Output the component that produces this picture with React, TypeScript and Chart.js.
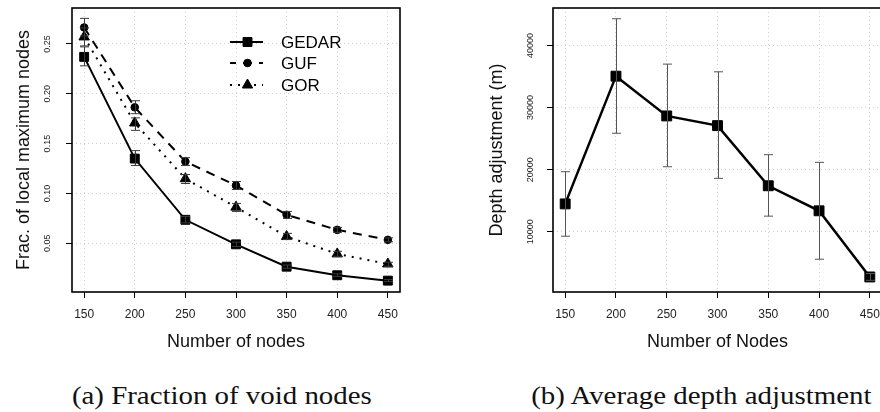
import React, { useEffect, useRef } from "react";
import { Chart, registerables } from "chart.js";
import { drawPoint } from "chart.js/helpers";

Chart.register(...registerables);
Chart.defaults.font.family = "'Liberation Sans', Arial, Helvetica, sans-serif";

// ---------- data ----------
const nodeCounts = [150, 200, 250, 300, 350, 400, 450];
const xTickValues = [150, 200, 250, 300, 350, 400, 450];
const fracTickValues = [0.05, 0.1, 0.15, 0.2, 0.25];
const depthTickValues = [10000, 20000, 30000, 40000];

const seriesNames = ["GEDAR", "GUF", "GOR"];

const gedarFrac = [0.237, 0.135, 0.0736, 0.049, 0.0266, 0.018, 0.0126];
const gedarLow = [0.228, 0.128, 0.0705, 0.0468, 0.025, 0.0167, 0.0116];
const gedarHigh = [0.247, 0.143, 0.0768, 0.0512, 0.0283, 0.0194, 0.0137];

const gufFrac = [0.2665, 0.1864, 0.132, 0.108, 0.0786, 0.0635, 0.0535];
const gufLow = [0.258, 0.18, 0.128, 0.104, 0.075, 0.061, 0.0515];
const gufHigh = [0.2756, 0.193, 0.136, 0.112, 0.082, 0.066, 0.0555];

const gorFrac = [0.257, 0.1707, 0.1148, 0.0863, 0.0568, 0.0394, 0.0293];
const gorLow = [0.248, 0.1633, 0.11, 0.082, 0.054, 0.037, 0.027];
const gorHigh = [0.266, 0.1758, 0.119, 0.09, 0.06, 0.042, 0.031];

const depthMean = [14500, 35060, 28660, 27100, 17420, 13390, 2740];
const depthLow = [9300, 25870, 20480, 18610, 12530, 5600, 2200];
const depthHigh = [19680, 44300, 37000, 35760, 22420, 21190, 3300];

// ---------- helpers ----------
const toPoints = (ys: number[]) => nodeCounts.map((n, i) => ({ x: n, y: ys[i] }));

const gridOpts = {
  color: "#cfcfcf",
  lineWidth: 1,
  tickColor: "#000",
  tickLength: 6,
  tickWidth: 1,
  drawTicks: true,
};

function xAxis(title: string) {
  return {
    type: "linear",
    min: 138,
    max: 462,
    afterBuildTicks: (s: any) => {
      s.ticks = xTickValues.map((v) => ({ value: v }));
    },
    afterFit: (s: any) => {
      s.height = 68;
      s.paddingLeft = 0;
      s.paddingRight = 0;
    },
    grid: gridOpts,
    border: { display: false, dash: [1, 3] },
    ticks: {
      autoSkip: false,
      font: { size: 12 },
      color: "#222",
      padding: 9.5,
      minRotation: 0,
      maxRotation: 0,
      callback: (v: any) => String(v),
    },
    title: {
      display: true,
      text: title,
      font: { size: 18 },
      color: "#111",
      padding: { top: 0, bottom: 7.2 },
    },
  };
}

function yAxis(
  min: number,
  max: number,
  tickVals: number[],
  title: string,
  width: number,
  tickPad: number,
  titlePad: number,
  fmt: (v: number) => string
) {
  return {
    type: "linear",
    min,
    max,
    afterBuildTicks: (s: any) => {
      s.ticks = tickVals.map((v) => ({ value: v }));
    },
    afterFit: (s: any) => {
      s.width = width;
      s.paddingTop = 0;
      s.paddingBottom = 0;
    },
    grid: gridOpts,
    border: { display: false, dash: [1, 3] },
    ticks: {
      autoSkip: false,
      font: { size: 9 },
      color: "#222",
      padding: tickPad,
      minRotation: 90,
      maxRotation: 90,
      crossAlign: "center",
      callback: (v: any) => fmt(Number(v)),
    },
    title: {
      display: true,
      text: title,
      font: { size: 18 },
      color: "#111",
      padding: { top: titlePad, bottom: 0 },
    },
  };
}

function errorBarPlugin(sets: { low: number[]; high: number[] }[], color: string, cap: number) {
  return {
    id: "errorBars",
    afterDatasetsDraw(chart: any) {
      const { ctx } = chart;
      const x = chart.scales.x;
      const y = chart.scales.y;
      ctx.save();
      ctx.strokeStyle = color;
      ctx.lineWidth = 1;
      ctx.setLineDash([]);
      sets.forEach((s) => {
        nodeCounts.forEach((n, i) => {
          const px = Math.round(x.getPixelForValue(n)) + 0.5;
          const y1 = y.getPixelForValue(s.low[i]);
          const y2 = y.getPixelForValue(s.high[i]);
          ctx.beginPath();
          ctx.moveTo(px, y1);
          ctx.lineTo(px, y2);
          ctx.moveTo(px - cap, y1);
          ctx.lineTo(px + cap, y1);
          ctx.moveTo(px - cap, y2);
          ctx.lineTo(px + cap, y2);
          ctx.stroke();
        });
      });
      ctx.restore();
    },
  };
}

const boxPlugin = {
  id: "box",
  afterDraw(chart: any) {
    const { ctx, chartArea: a } = chart;
    ctx.save();
    ctx.strokeStyle = "#000";
    ctx.lineWidth = 1.6;
    ctx.setLineDash([]);
    ctx.strokeRect(a.left, a.top, a.right - a.left, a.bottom - a.top);
    ctx.restore();
  },
};

const legendPlugin = {
  id: "customLegend",
  afterDraw(chart: any) {
    const { ctx } = chart;
    const rows = [42, 63, 85];
    const x0 = 230;
    const x1 = 263;
    const xm = 247.5;
    const xt = 281;
    ctx.save();
    chart.data.datasets.forEach((ds: any, i: number) => {
      const y = rows[i];
      ctx.strokeStyle = "#000";
      ctx.fillStyle = "#000";
      ctx.lineWidth = ds.borderWidth;
      ctx.setLineDash(ds.borderDash || []);
      ctx.lineDashOffset = ds.legendDashOffset || 0;
      ctx.beginPath();
      ctx.moveTo(x0, y);
      ctx.lineTo(x1, y);
      ctx.stroke();
      ctx.setLineDash([]);
      ctx.lineWidth = 1;
      drawPoint(ctx, { pointStyle: ds.pointStyle, radius: ds.pointRadius, rotation: 0, borderWidth: 1 } as any, xm, y);
      ctx.font = "17px 'Liberation Sans', Arial, sans-serif";
      ctx.textBaseline = "middle";
      ctx.textAlign = "left";
      ctx.fillStyle = "#000";
      ctx.fillText(ds.label, xt, y + 1);
    });
    ctx.restore();
  },
};

export default function App() {
  const leftRef = useRef<HTMLCanvasElement>(null);
  const rightRef = useRef<HTMLCanvasElement>(null);

  useEffect(() => {
    const left = new Chart(leftRef.current as HTMLCanvasElement, {
      type: "line",
      data: {
        datasets: [
          {
            label: seriesNames[0],
            data: toPoints(gedarFrac),
            borderColor: "#000",
            backgroundColor: "#000",
            borderWidth: 2,
            pointStyle: "rect",
            pointRadius: 6.3,
            pointBackgroundColor: "#000",
            pointBorderColor: "#000",
            pointBorderWidth: 1,
          },
          {
            label: seriesNames[1],
            data: toPoints(gufFrac),
            borderColor: "#000",
            backgroundColor: "#000",
            borderWidth: 2,
            borderDash: [9, 7],
            legendDashOffset: 3,
            pointStyle: "circle",
            pointRadius: 3.8,
            pointBackgroundColor: "#000",
            pointBorderColor: "#000",
            pointBorderWidth: 1,
          },
          {
            label: seriesNames[2],
            data: toPoints(gorFrac),
            borderColor: "#000",
            backgroundColor: "#000",
            borderWidth: 2,
            borderDash: [2, 6],
            pointStyle: "triangle",
            pointRadius: 6,
            pointBackgroundColor: "#000",
            pointBorderColor: "#000",
            pointBorderWidth: 1,
          },
        ] as any,
      },
      options: {
        responsive: false,
        animation: false,
        layout: { padding: { left: 0, top: 8, right: 40, bottom: 0 } },
        plugins: { legend: { display: false }, tooltip: { enabled: false } },
        scales: {
          x: xAxis("Number of nodes") as any,
          y: yAxis(0.0012, 0.286, fracTickValues, "Frac. of local maximum nodes", 72, 9.5, 13.2, (v) =>
            v.toFixed(2)
          ) as any,
        },
      },
      plugins: [
        errorBarPlugin(
          [
            { low: gedarLow, high: gedarHigh },
            { low: gufLow, high: gufHigh },
            { low: gorLow, high: gorHigh },
          ],
          "#3a3a3a",
          4.5
        ),
        boxPlugin,
        legendPlugin,
      ],
    });

    const right = new Chart(rightRef.current as HTMLCanvasElement, {
      type: "line",
      data: {
        datasets: [
          {
            label: "Depth adjustment",
            data: toPoints(depthMean),
            borderColor: "#000",
            backgroundColor: "#000",
            borderWidth: 2.5,
            pointStyle: "rect",
            pointRadius: 7,
            pointBackgroundColor: "#000",
            pointBorderColor: "#000",
            pointBorderWidth: 1,
          },
        ] as any,
      },
      options: {
        responsive: false,
        animation: false,
        layout: { padding: { left: 0, top: 8, right: 8, bottom: 0 } },
        plugins: { legend: { display: false }, tooltip: { enabled: false } },
        scales: {
          x: xAxis("Number of Nodes") as any,
          y: yAxis(320, 46030, depthTickValues, "Depth adjustment (m)", 113, 3.8, 46.2, (v) =>
            String(Math.round(v))
          ) as any,
        },
      },
      plugins: [errorBarPlugin([{ low: depthLow, high: depthHigh }], "#555", 4.5), boxPlugin],
    });

    return () => {
      left.destroy();
      right.destroy();
    };
  }, []);

  const captionStyle: React.CSSProperties = {
    position: "absolute",
    top: 381,
    height: 30,
    lineHeight: "30px",
    textAlign: "center",
  };
  const captionText: React.CSSProperties = {
    display: "inline-block",
    fontFamily: "'Liberation Serif', 'Times New Roman', serif",
    fontSize: 25,
    color: "#111",
    whiteSpace: "nowrap",
    transform: "scaleX(1.155)",
    transformOrigin: "center",
  };

  return (
    <div
      style={{
        position: "fixed",
        left: 0,
        top: 0,
        width: 880,
        height: 412,
        overflow: "hidden",
        background: "#fff",
      }}
    >
      <canvas
        ref={leftRef}
        width={440}
        height={360}
        style={{ position: "absolute", left: 0, top: 0, width: 440, height: 360 }}
      />
      <canvas
        ref={rightRef}
        width={450}
        height={360}
        style={{ position: "absolute", left: 440, top: 0, width: 450, height: 360 }}
      />
      <div style={{ ...captionStyle, left: 22, width: 400 }}>
        <span style={captionText}>(a) Fraction of void nodes</span>
      </div>
      <div style={{ ...captionStyle, left: 501, width: 400 }}>
        <span style={captionText}>(b) Average depth adjustment</span>
      </div>
    </div>
  );
}
